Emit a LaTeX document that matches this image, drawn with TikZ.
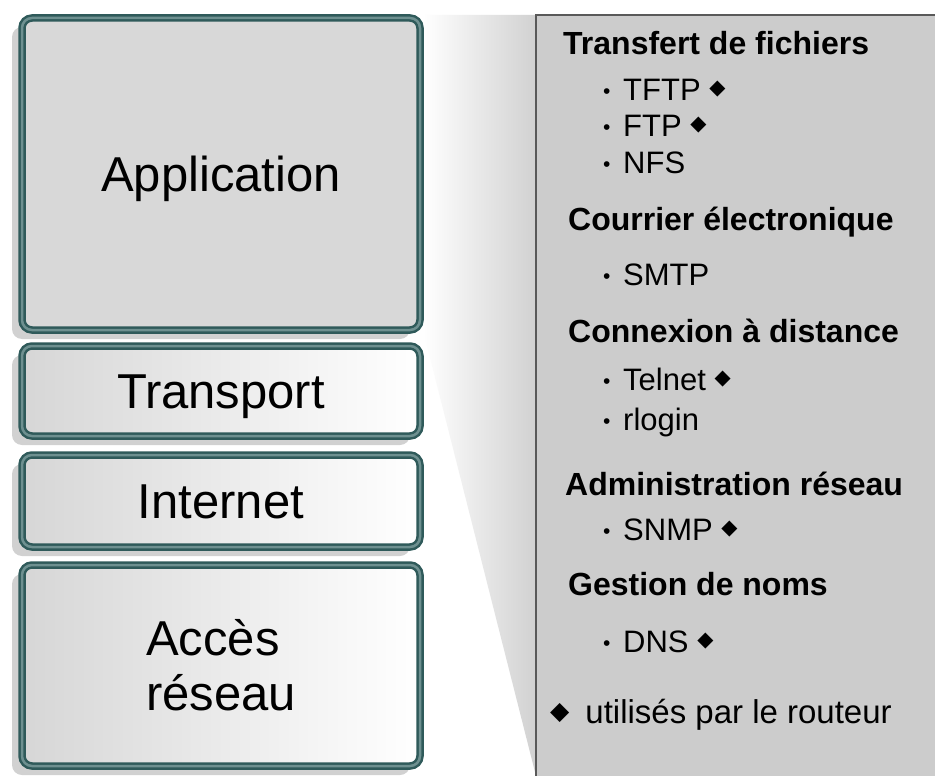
\documentclass[tikz,border=0pt]{standalone}
\usepackage{fontspec}
\setmainfont{Liberation Sans}
\newfontfamily\symfont{DejaVu Sans}
\usetikzlibrary{shadows}
\definecolor{tealdark}{HTML}{2F5A5A}
\definecolor{teallight}{HTML}{6E9090}
\definecolor{panelgray}{HTML}{CCCCCC}
\definecolor{boxgray}{HTML}{D8D8D8}
\newcommand{\dmd}{\raisebox{5.5pt}{\symfont\fontsize{21}{21}\selectfont ◆}}
\newcommand{\bigdmd}{\raisebox{4pt}{\symfont\fontsize{25}{25}\selectfont ◆}}
\newcommand{\bul}{\makebox[20pt][l]{\raisebox{1.5pt}{\fontsize{21}{21}\selectfont •}}}
\begin{document}
\begin{tikzpicture}[x=1pt,y=-1pt,
  layer/.style={rounded corners=10pt, draw=tealdark, line width=2.5pt,
    double=teallight, double distance=2.5pt,
    font=\fontsize{49}{55}\selectfont, align=left, inner sep=0pt,
    text height=35pt, text depth=0pt,
    general shadow={fill=black!18, shadow xshift=-10pt, shadow yshift=-9pt}},
  gradbox/.style={layer, left color=black!16, right color=white},
  head/.style={anchor=base west, font=\bfseries\fontsize{32}{36}\selectfont, inner sep=0pt},
  item/.style={anchor=base west, font=\fontsize{31}{36}\selectfont, inner sep=0pt},
]
\useasboundingbox (0,0) rectangle (935,776);
\fill[white] (0,0) rectangle (935,776);
% fan
\shade[left color=white, right color=black!18] (424,15) -- (536,15) -- (536,776) -- (423,330) -- cycle;
% panel
\node[anchor=north west, fill=panelgray, minimum width=410pt, minimum height=775pt, inner sep=0pt] (panel) at (536,15) {};
\draw[black!65, line width=1.5pt] (panel.south west) -- (panel.north west) -- (panel.north east);
% layers
\node[layer, fill=boxgray, minimum width=398pt, minimum height=312pt] (app) at (221,174) {Application};
\node[gradbox, minimum width=398pt, minimum height=90pt] (transport) at (221,391) {Transport};
\node[gradbox, minimum width=398pt, minimum height=92pt] (internet) at (221,501) {Internet};
\node[gradbox, minimum width=398pt, minimum height=201pt, text height=, text depth=] (acces) at (221,665.5) {Accès\\réseau};
% panel text
\node[head] (h1) at (563,55) {Transfert de fichiers};
\node[item] (i1) at (603,100) {\bul TFTP \dmd};
\node[item] (i2) at (603,136) {\bul FTP \dmd};
\node[item] (i3) at (603,173) {\bul NFS};
\node[head] (h2) at (568,230) {Courrier électronique};
\node[item] (i4) at (603,285) {\bul SMTP};
\node[head] (h3) at (568,342) {Connexion à distance};
\node[item] (i5) at (603,390) {\bul Telnet \dmd};
\node[item] (i6) at (603,430) {\bul rlogin};
\node[head] (h4) at (565,495) {Administration réseau};
\node[item] (i7) at (603,540) {\bul SNMP \dmd};
\node[head] (h5) at (568,595) {Gestion de noms};
\node[item] (i8) at (603,652) {\bul DNS \dmd};
\node[item, font=\fontsize{33}{36}\selectfont] (note) at (550,723) {\bigdmd\hspace{16pt}utilisés par le routeur};
\end{tikzpicture}
\end{document}
